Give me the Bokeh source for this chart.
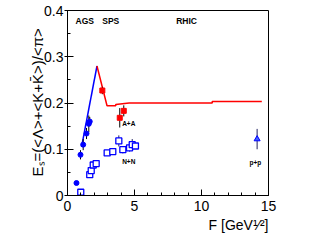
import math
from bokeh.plotting import figure
from bokeh.models import Range1d, Label, FixedTicker, Title
from bokeh.embed import file_html
from bokeh.resources import INLINE

FONT = "Liberation Sans"

# ---------------- data ----------------
# A+A, AGS energies (filled blue)
ags_F = [0.67, 0.97, 1.17, 1.42, 1.59, 1.66]
ags_E = [0.027, 0.088, 0.110, 0.134, 0.155, 0.160]
ags_err = [0.003, 0.010, 0.012, 0.012, 0.018, 0.010]

# A+A, SPS energies (filled red)
sps_F = [2.6, 3.9, 4.2]
sps_E = [0.227, 0.168, 0.183]
sps_err = [0.008, 0.021, 0.012]

# N+N (open blue squares)
nn_F = [0.99, 1.66, 1.77, 1.92, 2.14, 2.96, 3.38, 3.83, 4.13, 4.63, 4.83, 5.07]
nn_E = [0.007, 0.045, 0.054, 0.066, 0.069, 0.092, 0.095, 0.118, 0.099, 0.103, 0.110, 0.107]
nn_err = [0.003, 0.005, 0.005, 0.005, 0.005, 0.006, 0.006, 0.012, 0.008, 0.008, 0.012, 0.006]

# p+p at the highest energy
pp_F = [14.15]
pp_E = [0.122]
pp_err = [0.022]

# model lines
model_blue_F = [1.05, 2.2]
model_blue_E = [0.105, 0.28]
model_red_F = [2.2, 2.95, 3.6, 3.6, 4.6, 10.8, 10.8, 14.5]
model_red_E = [0.28, 0.194, 0.194, 0.197, 0.200, 0.200, 0.2035, 0.2035]

x_ticks = [0, 5, 10, 15]
y_ticks = [0, 0.1, 0.2, 0.3, 0.4]
y_tick_labels = ["0", "0.1", "0.2", "0.3", "0.4"]

# ---------------- figure ----------------
p = figure(width=329, height=242, output_backend="svg", toolbar_location=None,
           x_range=Range1d(0, 15), y_range=Range1d(0, 0.4),
           min_border_left=67, min_border_right=61, min_border_top=10, min_border_bottom=47)
p.background_fill_color = "white"
p.border_fill_color = "white"
p.outline_line_color = "black"
p.outline_line_width = 1
p.xgrid.visible = False
p.ygrid.visible = False

for ax in (p.xaxis[0], p.yaxis[0]):
    ax.axis_line_color = "black"
    ax.major_tick_line_color = "black"
    ax.minor_tick_line_color = "black"
    ax.major_label_text_font = FONT
    ax.major_label_text_font_size = "14px"
    ax.major_label_text_color = "black"
    ax.major_tick_in = 6
    ax.minor_tick_in = 3
    ax.minor_tick_out = 0

p.xaxis.ticker = FixedTicker(ticks=x_ticks, minor_ticks=list(range(0, 16)))
p.xaxis.major_tick_out = 0
p.xaxis.major_label_standoff = 5
p.xaxis.major_label_overrides = {t: str(t) for t in x_ticks}

p.yaxis.ticker = FixedTicker(ticks=y_ticks, minor_ticks=[i * 0.05 for i in range(9)])
p.yaxis.major_tick_out = 3
p.yaxis.major_label_standoff = 1
p.yaxis.major_label_overrides = dict(zip(y_ticks, y_tick_labels))

# axis titles as side-panel titles
ytitle = Title(text="E\u209b=(<\u039b>+<K+K\u0304>)/<\u03c0>", align="left", offset=19,
               vertical_align="bottom",
               text_font=FONT, text_font_size="15px", text_font_style="normal",
               text_color="black", standoff=-8)
p.add_layout(ytitle, "left")
xtitle = Title(text="F [GeV\u00b9\u2044\u00b2]", align="right", offset=0,
               text_font=FONT, text_font_size="14px", text_font_style="normal",
               text_color="black", standoff=2)
p.add_layout(xtitle, "below")

# model curves
p.line(model_blue_F, model_blue_E, line_color="#0000ff", line_width=1.5)
p.line(model_red_F, model_red_E, line_color="#ff0000", line_width=1.5)

# error bars
def errbars(F, E, err, color="black"):
    p.segment(F, [e - d for e, d in zip(E, err)], F, [e + d for e, d in zip(E, err)],
              line_color=color, line_width=1)

errbars(ags_F, ags_E, ags_err)
errbars(sps_F, sps_E, sps_err)
errbars(nn_F, nn_E, nn_err, "#202060")
errbars(pp_F, pp_E, pp_err, "#202060")

# markers
p.scatter(nn_F, nn_E, marker="square", size=6, fill_color="white", fill_alpha=1,
          line_color="#0000ff", line_width=1.3)
p.scatter(ags_F, ags_E, marker="circle", size=5, fill_color="#0000ff", line_color="#0000ff")
p.scatter(sps_F, sps_E, marker="square", size=5, fill_color="#ff0000", line_color="#ff0000")
p.scatter(pp_F, pp_E, marker="triangle", size=6, fill_color="#4060ff", line_color="#0000ff")

# ---------------- in-plot text ----------------
def lab(x, y, text, size, bold=False, align="left", baseline="middle"):
    p.add_layout(Label(x=x, y=y, text=text, text_font=FONT, text_font_size=size,
                       text_font_style="bold" if bold else "normal",
                       text_align=align, text_baseline=baseline, text_color="black"))

lab(0.6, 0.377, "AGS", "8.5px", True)
lab(2.59, 0.377, "SPS", "8.5px", True)
lab(8.11, 0.377, "RHIC", "8.5px", True)
lab(4.08, 0.155, "A+A", "6.5px", True)
lab(4.08, 0.0735, "N+N", "6.5px", True)
lab(13.58, 0.072, "p+p", "6.5px", True)

open("out.html", "w").write(file_html(p, INLINE))
